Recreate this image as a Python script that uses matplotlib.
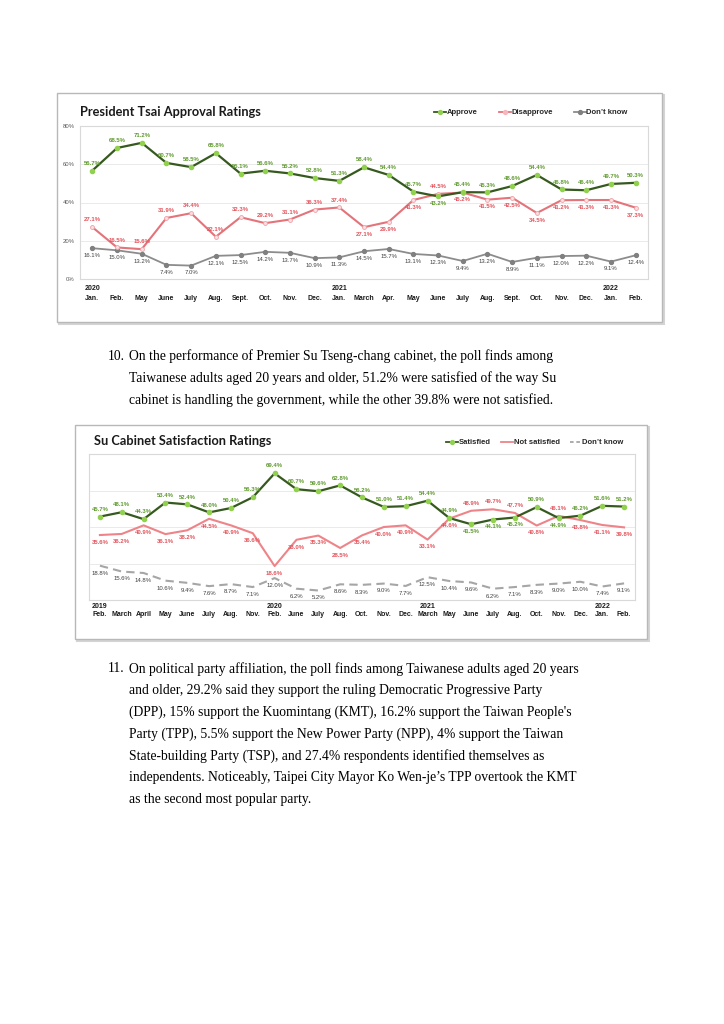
import matplotlib.pyplot as plt
from matplotlib.patches import Rectangle
from matplotlib.lines import Line2D

W, H = 724, 1024

# President Tsai approval ratings
tsai_months = ['Jan.', 'Feb.', 'May', 'June', 'July', 'Aug.', 'Sept.', 'Oct.', 'Nov.', 'Dec.',
               'Jan.', 'March', 'Apr.', 'May', 'June', 'July', 'Aug.', 'Sept.', 'Oct.', 'Nov.', 'Dec.',
               'Jan.', 'Feb.']
tsai_years = ['2020', '', '', '', '', '', '', '', '', '',
              '2021', '', '', '', '', '', '', '', '', '', '',
              '2022', '']
tsai_approve = [56.7, 68.5, 71.2, 60.7, 58.5, 65.8, 55.1, 56.6, 55.2, 52.8,
                51.3, 58.4, 54.4, 45.7, 43.2, 45.4, 45.3, 48.6, 54.4, 46.8, 46.4,
                49.7, 50.3]
tsai_disapprove = [27.1, 16.5, 15.6, 31.9, 34.4, 22.1, 32.3, 29.2, 31.1, 36.3,
                   37.4, 27.1, 29.9, 41.3, 44.5, 45.2, 41.5, 42.5, 34.5, 41.2, 41.3,
                   41.3, 37.3]
tsai_dontknow = [16.1, 15.0, 13.2, 7.4, 7.0, 12.1, 12.5, 14.2, 13.7, 10.9,
                 11.3, 14.5, 15.7, 13.1, 12.3, 9.4, 13.2, 8.9, 11.1, 12.0, 12.2,
                 9.1, 12.4]

# Su cabinet satisfaction ratings
su_months = ['Feb.', 'March', 'April', 'May', 'June', 'July', 'Aug.', 'Nov.',
             'Feb.', 'June', 'July', 'Aug.', 'Oct.', 'Nov.', 'Dec.',
             'March', 'May', 'June', 'July', 'Aug.', 'Oct.', 'Nov.', 'Dec.',
             'Jan.', 'Feb.']
su_years = ['2019', '', '', '', '', '', '', '',
            '2020', '', '', '', '', '', '',
            '2021', '', '', '', '', '', '', '',
            '2022', '']
su_satisfied = [45.7, 48.1, 44.3, 53.4, 52.4, 48.0, 50.4, 56.3,
                69.4, 60.7, 59.6, 62.8, 56.2, 51.0, 51.4,
                54.4, 44.9, 41.5, 44.1, 45.2, 50.9, 44.9, 46.2,
                51.6, 51.2]
su_not_satisfied = [35.6, 36.2, 40.9, 36.1, 38.2, 44.5, 40.9, 36.6,
                    18.6, 33.0, 35.3, 28.5, 35.4, 40.0, 40.9,
                    33.1, 44.6, 48.9, 49.7, 47.7, 40.8, 46.1, 43.8,
                    41.1, 39.8]
su_dontknow = [18.8, 15.6, 14.8, 10.6, 9.4, 7.6, 8.7, 7.1,
               12.0, 6.2, 5.2, 8.6, 8.3, 9.0, 7.7,
               12.5, 10.4, 9.6, 6.2, 7.1, 8.3, 9.0, 10.0,
               7.4, 9.1]

# label placement: a = above the point, b = below
tsai_approve_pos = 'a' * 14 + 'b' + 'a' * 8
tsai_disapprove_pos = 'a' * 11 + 'bbb' + 'a' + 'b' * 8
su_satisfied_pos = 'a' * 17 + 'bbb' + 'a' + 'b' + 'aaa'
su_not_pos = 'b' * 17 + 'aaa' + 'b' + 'a' + 'bbb'

para10 = ["On the performance of Premier Su Tseng-chang cabinet, the poll finds among",
          "Taiwanese adults aged 20 years and older, 51.2% were satisfied of the way Su",
          "cabinet is handling the government, while the other 39.8% were not satisfied."]
para11 = ["On political party affiliation, the poll finds among Taiwanese adults aged 20 years",
          "and older, 29.2% said they support the ruling Democratic Progressive Party",
          "(DPP), 15% support the Kuomintang (KMT), 16.2% support the Taiwan People's",
          "Party (TPP), 5.5% support the New Power Party (NPP), 4% support the Taiwan",
          "State-building Party (TSP), and 27.4% respondents identified themselves as",
          "independents. Noticeably, Taipei City Mayor Ko Wen-je\u2019s TPP overtook the KMT",
          "as the second most popular party."]

GREEN_LINE = '#36591f'
GREEN_MK = '#92d050'
GREEN_TXT = '#5f9a2e'
RED_LINE = '#e4737a'
RED_TXT = '#e2545c'
GREY_LINE = '#8c8c8c'
GREY_TXT = '#404040'
SANS = 'Liberation Sans'


def fx(x):
    return x / W


def fy(y):
    return 1 - y / H


def add_box(fig, x0, y0, x1, y1):
    fig.add_artist(Rectangle((fx(x0 + 2), fy(y1 + 2)), (x1 - x0) / W, (y1 - y0) / H,
                             transform=fig.transFigure, fill=False, ec='#d4d4d4', lw=1.5,
                             zorder=-3))
    fig.add_artist(Rectangle((fx(x0), fy(y1)), (x1 - x0) / W, (y1 - y0) / H,
                             transform=fig.transFigure, fc='white', ec='#b8b8b8', lw=1.0,
                             zorder=-2))


def make_axes(fig, x0, y0, x1, y1):
    ax = fig.add_axes([fx(x0), fy(y1), (x1 - x0) / W, (y1 - y0) / H])
    ax.set_zorder(2)
    for s in ax.spines.values():
        s.set_color('#d9d9d9')
        s.set_linewidth(0.8)
    ax.set_ylim(0, 80)
    ax.set_yticks([0, 20, 40, 60, 80])
    ax.grid(axis='y', color='#e6e6e6', lw=0.6)
    ax.set_axisbelow(True)
    ax.tick_params(length=0)
    ax.set_xticks([])
    return ax


def put_labels(ax, vals, pos, color, weight, below_only=False):
    for i, v in enumerate(vals):
        up = (not below_only) and pos[i] == 'a'
        ax.annotate(f'{v:.1f}%', (i, v), xytext=(0, 3.5 if up else -3.5),
                    textcoords='offset points', ha='center',
                    va='bottom' if up else 'top', fontsize=4.3,
                    color=color, fontweight=weight, family=SANS)


def x_labels(ax, months, years, bottom_px, month_px, year_px, height_px):
    tr = ax.get_xaxis_transform()
    for i, m in enumerate(months):
        ax.text(i, (bottom_px - month_px) / height_px, m, transform=tr, ha='center',
                va='center', fontsize=5, fontweight='bold', family=SANS, color='#1a1a1a',
                clip_on=False)
        if years[i]:
            ax.text(i, (bottom_px - year_px) / height_px, years[i], transform=tr,
                    ha='center', va='center', fontsize=5, fontweight='bold',
                    family=SANS, color='#1a1a1a', clip_on=False)


def legend_item(fig, x, y, label, color, mfc, marker, ls='-'):
    fig.add_artist(Line2D([fx(x), fx(x + 12)], [fy(y), fy(y)], transform=fig.transFigure,
                          color=color, lw=1.3, ls=ls))
    if marker:
        fig.add_artist(Line2D([fx(x + 6)], [fy(y)], transform=fig.transFigure,
                              marker=marker, ms=2.8, mfc=mfc, mec=mfc, lw=0))
    fig.text(fx(x + 12.5), fy(y), label, ha='left', va='center', fontsize=5.5,
             fontweight='bold', family=SANS, color='#262626')


fig = plt.figure(figsize=(W / 100, H / 100), dpi=100)
fig.patch.set_facecolor('white')

# ---- chart 1 ----
add_box(fig, 57, 93, 662, 322)
fig.text(fx(80), fy(112), 'President Tsai Approval Ratings', ha='left', va='center',
         fontsize=9.2, fontweight='bold', family='Lato', color='#1a1a1a')
ax1 = make_axes(fig, 80, 126, 648, 279)
x1 = range(len(tsai_months))
ax1.set_xlim(-0.5, len(tsai_months) - 0.5)
ax1.set_yticklabels(['0%', '20%', '40%', '60%', '80%'], fontsize=4.3, color='#595959', family=SANS)
ax1.tick_params(axis='y', pad=4)
ax1.plot(x1, tsai_dontknow, color=GREY_LINE, lw=1.3, marker='o', ms=2.8, mfc='#808080', mec='#808080')
ax1.plot(x1, tsai_disapprove, color=RED_LINE, lw=1.5, marker='o', ms=2.8, mfc='#fbe0e2', mec='#f0a0a5', mew=0.6)
ax1.plot(x1, tsai_approve, color=GREEN_LINE, lw=1.6, marker='o', ms=3, mfc=GREEN_MK, mec=GREEN_MK)
put_labels(ax1, tsai_approve, tsai_approve_pos, GREEN_TXT, 'bold')
put_labels(ax1, tsai_disapprove, tsai_disapprove_pos, RED_TXT, 'bold')
put_labels(ax1, tsai_dontknow, '', GREY_TXT, 'normal', below_only=True)
x_labels(ax1, tsai_months, tsai_years, 279, 299, 289, 153)
legend_item(fig, 434, 112, 'Approve', GREEN_LINE, GREEN_MK, 'o')
legend_item(fig, 499, 112, 'Disapprove', RED_LINE, '#f4b8bc', 'o')
legend_item(fig, 574, 112, "Don\u2019t know", GREY_LINE, '#808080', 'o')

# ---- chart 2 ----
add_box(fig, 75, 425, 647, 639)
fig.text(fx(94), fy(441), 'Su Cabinet Satisfaction Ratings', ha='left', va='center',
         fontsize=9.2, fontweight='bold', family='Lato', color='#1a1a1a')
ax2 = make_axes(fig, 89, 454, 635, 600)
x2 = range(len(su_months))
ax2.set_xlim(-0.5, len(su_months) - 0.5)
ax2.set_yticklabels([])
ax2.plot(x2, su_dontknow, color='#a6a6a6', lw=1.5, ls=(0, (4, 2.5)))
ax2.plot(x2, su_not_satisfied, color='#ee8489', lw=1.5)
ax2.plot(x2, su_satisfied, color=GREEN_LINE, lw=1.6, marker='o', ms=3, mfc=GREEN_MK, mec=GREEN_MK)
put_labels(ax2, su_satisfied, su_satisfied_pos, GREEN_TXT, 'bold')
put_labels(ax2, su_not_satisfied, su_not_pos, RED_TXT, 'bold')
put_labels(ax2, su_dontknow, '', GREY_TXT, 'normal', below_only=True)
x_labels(ax2, su_months, su_years, 600, 615, 607, 146)
legend_item(fig, 446, 442, 'Satisfied', GREEN_LINE, GREEN_MK, 'o')
legend_item(fig, 501, 442, 'Not satisfied', '#ee8489', None, None)
legend_item(fig, 570, 442, "Don\u2019t know", '#a6a6a6', None, None, ls=(0, (2, 1.5)))

# ---- paragraphs ----
SERIF = 'Liberation Serif'
fig.text(fx(108), fy(356), '10.', ha='left', va='center', fontsize=9.8, family=SERIF)
for k, line in enumerate(para10):
    fig.text(fx(129), fy(356 + 22 * k), line, ha='left', va='center', fontsize=9.8, family=SERIF)
fig.text(fx(108), fy(669), '11.', ha='left', va='center', fontsize=9.8, family=SERIF)
for k, line in enumerate(para11):
    fig.text(fx(129), fy(669 + 21.7 * k), line, ha='left', va='center', fontsize=9.8, family=SERIF)

fig.savefig('out.png', dpi=100, facecolor='white')
